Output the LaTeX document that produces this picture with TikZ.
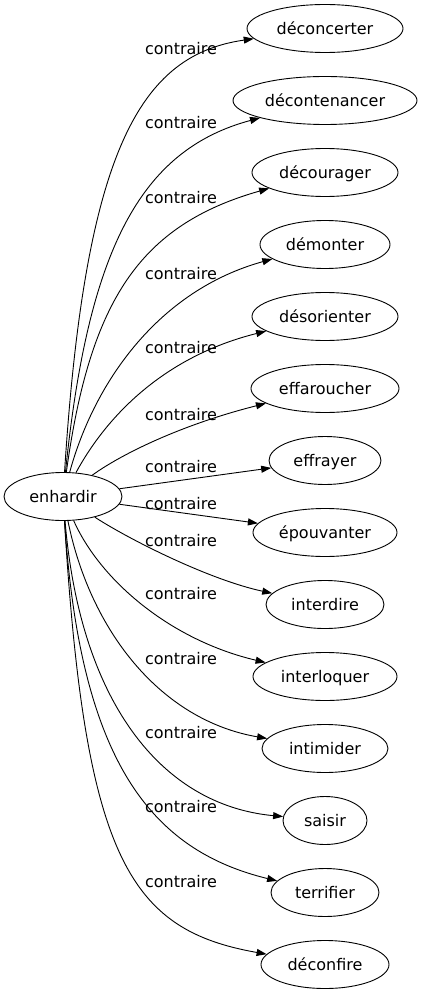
\documentclass[tikz,border=0pt]{standalone}
\usepackage{fontspec}
\setmainfont{DejaVu Sans}
\usetikzlibrary{shapes.geometric,arrows.meta}
\begin{document}
\begin{tikzpicture}[x=1pt,y=-1pt,
  every node/.style={font=\fontsize{16}{19}\selectfont},
  word/.style={draw, ellipse, inner sep=0pt, minimum height=48pt,
    text height=12pt, text depth=0pt, line width=0.9pt},
  lbl/.style={anchor=base, inner sep=0pt},
  edge/.style={-{Triangle[length=10pt,width=7pt]}, line width=0.9pt}]
\useasboundingbox (0,0) rectangle (420,995);
\node[word, minimum width=118pt] (e) at (63,496.5) {enhardir};
\node[word, minimum width=156pt] (t0) at (325,28.5) {déconcerter};
\node[word, minimum width=184pt] (t1) at (325,100.5) {décontenancer};
\node[word, minimum width=146pt] (t2) at (325,172.5) {décourager};
\node[word, minimum width=130pt] (t3) at (325,244.5) {démonter};
\node[word, minimum width=146pt] (t4) at (325,316.5) {désorienter};
\node[word, minimum width=148pt] (t5) at (325,388.5) {effaroucher};
\node[word, minimum width=112pt] (t6) at (325,460.5) {effrayer};
\node[word, minimum width=144pt] (t7) at (325,532.5) {épouvanter};
\node[word, minimum width=118pt] (t8) at (325,604.5) {interdire};
\node[word, minimum width=144pt] (t9) at (325,676.5) {interloquer};
\node[word, minimum width=126pt] (t10) at (325,748.5) {intimider};
\node[word, minimum width=84pt] (t11) at (325,820.5) {saisir};
\node[word, minimum width=108pt] (t12) at (325,892.5) {terrifier};
\node[word, minimum width=128pt] (t13) at (325,964.5) {déconfire};
\draw[edge] (e) .. controls (85,150) and (140,55) .. (t0);
\draw[edge] (e) .. controls (88,250) and (140,150) .. (t1);
\draw[edge] (e) .. controls (90,300) and (140,225) .. (t2);
\draw[edge] (e) .. controls (95,380) and (160,290) .. (t3);
\draw[edge] (e) .. controls (110,410) and (170,355) .. (t4);
\draw[edge] (e) .. controls (120,455) and (180,425) .. (t5);
\draw[edge] (e) -- (t6);
\draw[edge] (e) -- (t7);
\draw[edge] (e) .. controls (130,540) and (210,580) .. (t8);
\draw[edge] (e) .. controls (100,580) and (170,640) .. (t9);
\draw[edge] (e) .. controls (90,630) and (160,720) .. (t10);
\draw[edge] (e) .. controls (80,700) and (160,805) .. (t11);
\draw[edge] (e) .. controls (80,760) and (150,850) .. (t12);
\draw[edge] (e) .. controls (85,860) and (130,930) .. (t13);
\node[lbl] (l0) at (181,55) {contraire};
\node[lbl] (l1) at (181,129) {contraire};
\node[lbl] (l2) at (181,204) {contraire};
\node[lbl] (l3) at (181,279) {contraire};
\node[lbl] (l4) at (181,353) {contraire};
\node[lbl] (l5) at (181,420) {contraire};
\node[lbl] (l6) at (181,472) {contraire};
\node[lbl] (l7) at (181,509) {contraire};
\node[lbl] (l8) at (181,546) {contraire};
\node[lbl] (l9) at (181,599) {contraire};
\node[lbl] (l10) at (181,664) {contraire};
\node[lbl] (l11) at (181,738) {contraire};
\node[lbl] (l12) at (181,812) {contraire};
\node[lbl] (l13) at (181,887) {contraire};
\end{tikzpicture}
\end{document}
